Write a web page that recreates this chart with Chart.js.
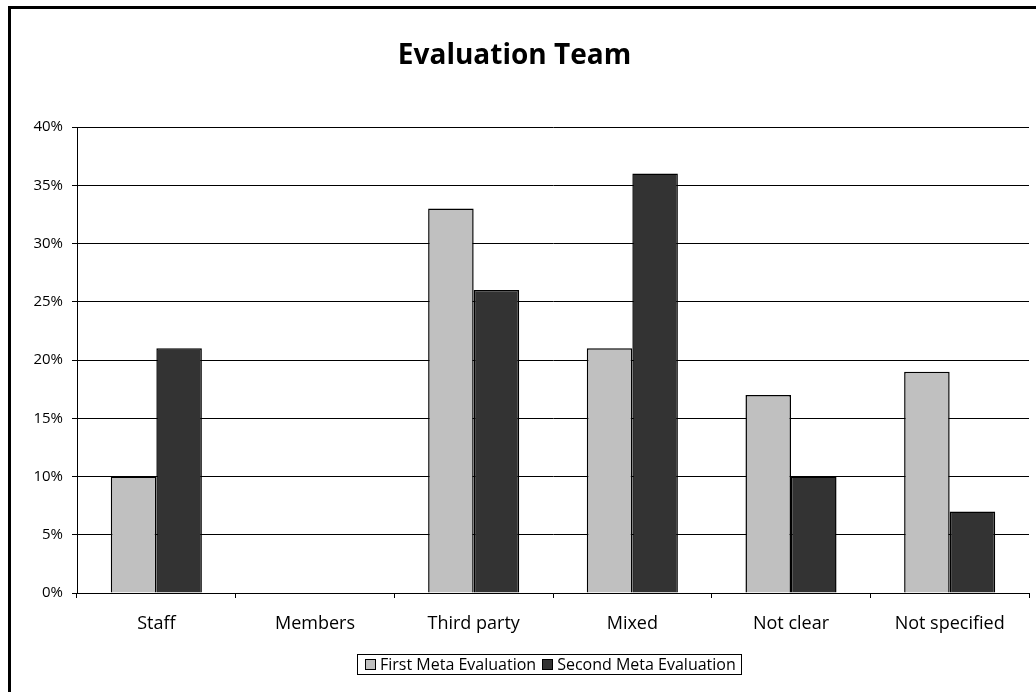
<!DOCTYPE html>
<html>
<head>
<meta charset="utf-8">
<title>Evaluation Team</title>
<script src="https://cdn.jsdelivr.net/npm/chart.js@4"></script>
<style>
  html, body { margin: 0; padding: 0; background: #fff; overflow: hidden; }
  #wrap { position: absolute; left: 0; top: 0; width: 1036px; height: 692px; }
  #frame {
    position: absolute; left: 8px; top: 6px; width: 1100px; height: 800px;
    border-left: 3px solid #000; border-top: 3px solid #000; pointer-events: none;
  }
  #legend {
    position: absolute; left: 357px; top: 654px; height: 19px; line-height: 19px;
    border: 1px solid #000; display: flex; align-items: center;
    padding: 0 5px 0 7px; font-family: 'Open Sans', sans-serif; font-size: 16px; color: #000;
    white-space: nowrap;
  }
  #legend span.item { display: flex; align-items: center; margin-right: 6px; }
  #legend span.item:last-child { margin-right: 0; }
  #legend span.box { width: 9px; height: 9px; border: 1px solid #000; margin-right: 4px; }
</style>
</head>
<body>
<div id="wrap">
  <canvas id="chart"></canvas>
  <div id="frame"></div>
  <div id="legend"></div>
</div>
<script>
const categories = ['Staff', 'Members', 'Third party', 'Mixed', 'Not clear', 'Not specified'];
const firstMeta = [10, 0, 33, 21, 17, 19];
const secondMeta = [21, 0, 26, 36, 10, 7];
const yTicks = [0, 5, 10, 15, 20, 25, 30, 35, 40];

const ctx = document.getElementById('chart').getContext('2d');

const chart = new Chart(ctx, {
  type: 'bar',
  data: {
    labels: categories,
    datasets: [{
      label: 'First Meta Evaluation',
      data: firstMeta,
      backgroundColor: '#c0c0c0',
      borderColor: '#000',
      borderWidth: 1.5,
      categoryPercentage: 0.574,
      barPercentage: 1
    }, {
      label: 'Second Meta Evaluation',
      data: secondMeta,
      backgroundColor: '#333333',
      borderColor: '#000',
      borderWidth: 1.5,
      categoryPercentage: 0.574,
      barPercentage: 1
    }]
  },
  options: {
    responsive: true,
    maintainAspectRatio: false,
    animation: false,
    layout: { padding: { left: 0, right: 7, top: 0, bottom: 39 } },
    plugins: {
      legend: { display: false },
      tooltip: { enabled: false },
      title: {
        display: true,
        text: 'Evaluation Team',
        color: '#000',
        font: { family: 'Open Sans', size: 28, weight: 'bold', lineHeight: 1.2 },
        padding: { top: 39, bottom: 54.4 }
      }
    },
    scales: {
      x: {
        grid: { display: true, drawOnChartArea: false, drawTicks: true, tickLength: 5, color: '#000' },
        border: { display: true, color: '#000' },
        ticks: { color: '#000', padding: 15, font: { family: 'Open Sans', size: 18 } },
        afterFit: scale => { scale.height = 60; }
      },
      y: {
        min: 0,
        max: 40,
        afterBuildTicks: scale => { scale.ticks = yTicks.map(v => ({ value: v })); },
        grid: { color: '#000', tickLength: 5, drawTicks: true },
        border: { display: true, color: '#000' },
        ticks: {
          color: '#000', padding: 9,
          font: { family: 'Open Sans', size: 15 },
          callback: v => v + '%'
        },
        afterFit: scale => { scale.width = 77; }
      }
    }
  }
});

// legend built from the datasets
const legendEl = document.getElementById('legend');
chart.data.datasets.forEach(ds => {
  const item = document.createElement('span');
  item.className = 'item';
  item.innerHTML = '<span class="box" style="background:' + ds.backgroundColor + '"></span>' + ds.label;
  legendEl.appendChild(item);
});
</script>
</body>
</html>
